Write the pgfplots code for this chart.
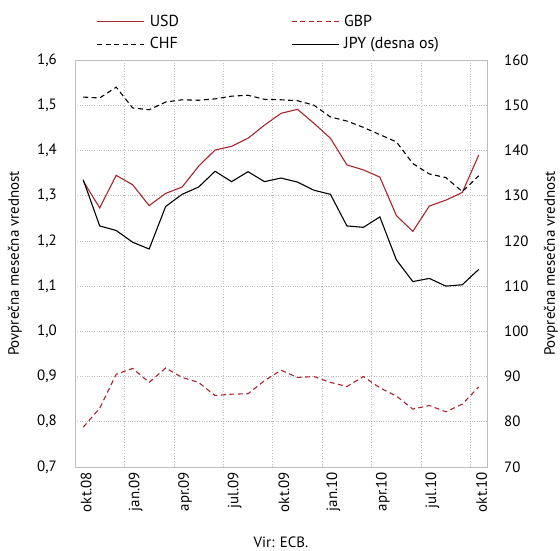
\documentclass[border=0pt]{standalone}
\usepackage{pgfplots}
\pgfplotsset{compat=1.18}
\usepackage{pgfplotstable}
\usepackage{fontspec}
\setmainfont{PT Sans}
\definecolor{usdred}{RGB}{170,35,45}
\definecolor{gridgray}{RGB}{190,190,190}
\pgfplotstableread{
k usd gbp chf jpy
0 1.332 0.788 1.518 133.5
1 1.273 0.830 1.516 123.3
2 1.345 0.905 1.540 122.3
3 1.324 0.918 1.494 119.7
4 1.278 0.887 1.490 118.2
5 1.305 0.919 1.507 127.6
6 1.319 0.898 1.512 130.3
7 1.365 0.887 1.511 131.9
8 1.401 0.858 1.514 135.4
9 1.409 0.861 1.520 133.1
10 1.427 0.862 1.522 135.3
11 1.456 0.891 1.513 133.1
12 1.482 0.914 1.512 133.9
13 1.491 0.898 1.510 133.0
14 1.460 0.900 1.500 131.2
15 1.427 0.887 1.474 130.3
16 1.368 0.878 1.465 123.3
17 1.357 0.900 1.451 123.0
18 1.341 0.875 1.435 125.3
19 1.256 0.857 1.419 115.8
20 1.221 0.828 1.371 111.0
21 1.277 0.836 1.348 111.7
22 1.290 0.822 1.340 110.0
23 1.307 0.839 1.309 110.3
24 1.390 0.877 1.344 113.7
}\data
\begin{document}
\fontsize{15}{17}\selectfont
\begin{tikzpicture}
\pgfplotsset{
  common/.style={
    scale only axis, width=412bp, height=407bp,
    xmin=-0.5, xmax=24.5,
    /pgf/number format/assume math mode=true,
    tick label style={font=\fontsize{15}{17}\selectfont},
    label style={font=\fontsize{15}{17}\selectfont},
    major tick length=0pt, minor tick length=0pt,
  }
}
\begin{axis}[common, name=ax,
  ymin=0.7, ymax=1.6, ytick={0.7,0.8,...,1.61},
  /pgf/number format/.cd, fixed, fixed zerofill, precision=1, use comma, /pgfplots/.cd,
  axis line style={gridgray, line width=0.8pt},
  xtick={0,3,...,24},
  xticklabels={okt.08,jan.09,apr.09,jul.09,okt.09,jan.10,apr.10,jul.10,okt.10},
  xticklabel style={rotate=90, anchor=east, yshift=-3bp},
  minor xtick={2.5,5.5,...,23.5},
  xminorgrids=true, ymajorgrids=true,
  grid style={gridgray, dotted, line width=0.7pt},
  minor grid style={gridgray, dotted, line width=0.7pt},
  ylabel={Povprečna mesečna vrednost},
  ylabel style={at={(axis description cs:-0.146,0.5)}, anchor=center, rotate=0},
  yticklabel style={xshift=-13bp},
  legend columns=2,
  legend style={draw=none, fill=none, at={(0.045,1.012)}, anchor=south west,
    font=\fontsize{16}{18}\selectfont,
    /tikz/every odd column/.append style={column sep=3bp},
    /tikz/every even column/.append style={column sep=110bp},
    row sep=5bp},
  legend cell align=left,
  legend image code/.code={\draw[#1] (0bp,0bp) -- (47bp,0bp);},
]
\addplot[usdred, line width=1.1pt] table[x=k, y=usd] {\data};
\addlegendentry{USD}
\addplot[usdred, line width=1.1pt, dash pattern=on 5bp off 3.5bp] table[x=k, y=gbp] {\data};
\addlegendentry{GBP}
\addplot[black, line width=1.1pt, dash pattern=on 5bp off 3.5bp] table[x=k, y=chf] {\data};
\addlegendentry{CHF}
\addlegendimage{black, line width=1.1pt}
\addlegendentry{JPY (desna os)}
\end{axis}
\begin{axis}[common,
  ymin=70, ymax=160, ytick={70,80,...,160},
  axis x line=none, axis y line*=right,
  y axis line style={draw=none},
  xtick=\empty,
  ylabel={Povprečna mesečna vrednost},
  ylabel style={at={(axis description cs:1.155,0.5)}, anchor=center, rotate=0},
  yticklabel style={xshift=12bp},
]
\addplot[black, line width=1.1pt] table[x=k, y=jpy] {\data};
\end{axis}
\node[font=\fontsize{15}{17}\selectfont, anchor=base] at ([yshift=-81bp]ax.south) {Vir: ECB.};
\pgfresetboundingbox
\path ([xshift=-75bp,yshift=-84bp]ax.south west) rectangle ([xshift=73bp,yshift=60bp]ax.north east);
\end{tikzpicture}
\end{document}
